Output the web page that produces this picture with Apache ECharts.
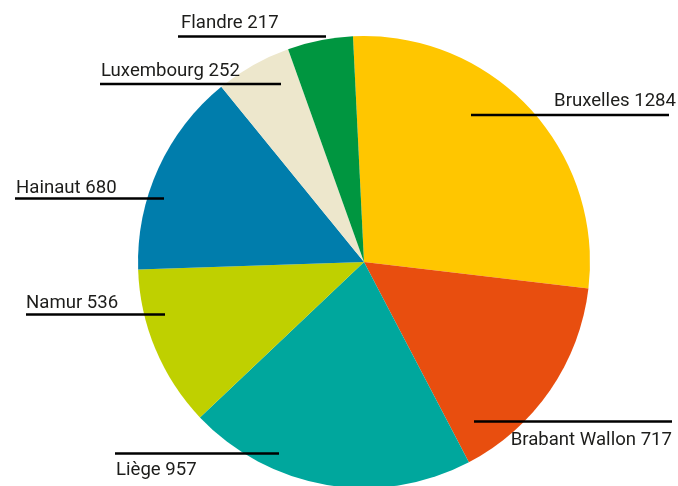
<!DOCTYPE html>
<html>
<head>
<meta charset="utf-8">
<script src="https://cdn.jsdelivr.net/npm/echarts@6/dist/echarts.min.js"></script>
<style>html,body{margin:0;padding:0;background:#fff;}#c{width:678px;height:486px;}</style>
</head>
<body>
<div id="c"></div>
<script>
const categories = ['Bruxelles', 'Brabant Wallon', 'Liège', 'Namur', 'Hainaut', 'Luxembourg', 'Flandre'];
const values = [1284, 717, 957, 536, 680, 252, 217];
const colors = ['#FFC600', '#E84E0F', '#00A79D', '#BFD000', '#007DAC', '#EDE7CC', '#009640'];

// label placement (layout only): text anchor and underline extent
const labelPos = [
  {x: 676, y: 101.5, align: 'right', line: [471, 669, 115]},
  {x: 672, y: 440.5, align: 'right', line: [474, 672, 421.5]},
  {x: 116, y: 470.5, align: 'left', line: [115, 279, 453.5]},
  {x: 26, y: 303.5, align: 'left', line: [26, 165, 314.5]},
  {x: 16, y: 188, align: 'left', line: [15, 164, 198.5]},
  {x: 101, y: 71, align: 'left', line: [100, 281, 84]},
  {x: 181, y: 23, align: 'left', line: [178, 326, 36.5]}
];

const pieData = categories.map((n, i) => ({name: n, value: values[i], itemStyle: {color: colors[i]}}));
const labelData = categories.map((n, i) => ({name: n, value: values[i]}));

const chart = echarts.init(document.getElementById('c'), null, {renderer: 'canvas'});
const common = {
  type: 'pie',
  center: [364, 262],
  radius: 226,
  startAngle: 92.8,
  clockwise: true,
  animation: false
};
chart.setOption({
  backgroundColor: '#fff',
  series: [
    Object.assign({}, common, {
      z: 1,
      data: pieData,
      label: {show: false},
      labelLine: {show: false},
      itemStyle: {borderWidth: 0},
      emphasis: {disabled: true}
    }),
    Object.assign({}, common, {
      z: 5,
      silent: true,
      data: labelData,
      itemStyle: {color: 'rgba(0,0,0,0)', borderWidth: 0},
      emphasis: {disabled: true},
      label: {
        show: true,
        position: 'outside',
        formatter: '{b} {c}',
        color: '#1d1d1b',
        opacity: 1,
        overflow: 'none',
        width: 300,
        fontFamily: 'Roboto',
        fontSize: 18.6
      },
      labelLine: {show: true, length: 10, length2: 10, lineStyle: {color: '#000', width: 2.5, opacity: 1}},
      labelLayout: function (p) {
        const L = labelPos[p.dataIndex];
        const l = L.line;
        return {
          x: L.x, y: L.y, align: L.align, verticalAlign: 'middle',
          labelLinePoints: [[l[1], l[2]], [(l[0] + l[1]) / 2, l[2]], [l[0], l[2]]]
        };
      }
    })
  ]
});
</script>
</body>
</html>
